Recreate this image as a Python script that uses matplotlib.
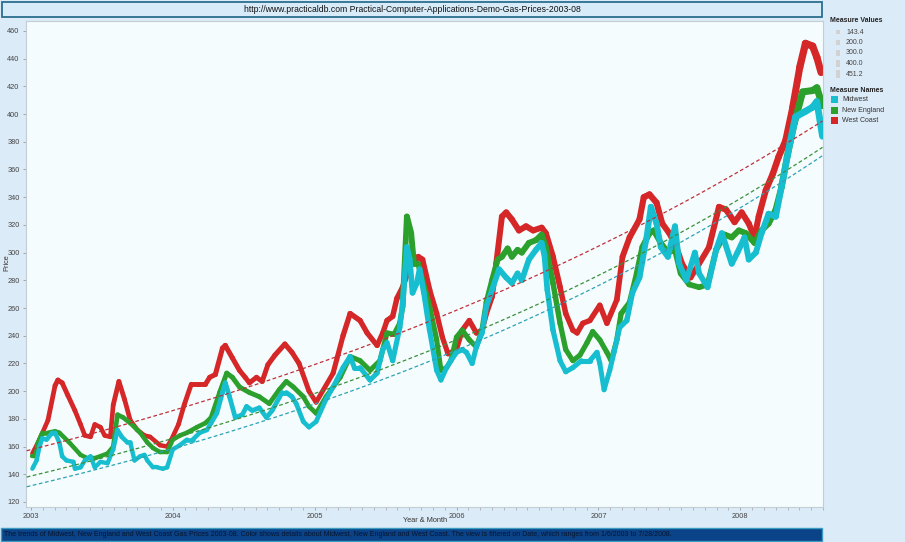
import numpy as np
import matplotlib
matplotlib.use("Agg")
import matplotlib.pyplot as plt
from matplotlib.collections import LineCollection
from matplotlib.patches import Rectangle

plt.rcParams['font.family'] = ['Liberation Sans Narrow', 'Liberation Sans', 'DejaVu Sans']

# weekly gas prices: decimal year and price (cents/gal)
wc_year = [2003.01, 2003.06, 2003.12, 2003.17, 2003.19, 2003.22, 2003.26, 2003.31, 2003.35, 2003.38,
           2003.42, 2003.45, 2003.49, 2003.52, 2003.56, 2003.58, 2003.62, 2003.66, 2003.70, 2003.75,
           2003.80, 2003.84, 2003.91, 2003.96, 2003.99, 2004.04, 2004.08, 2004.13, 2004.18, 2004.23,
           2004.26, 2004.30, 2004.35, 2004.37, 2004.42, 2004.47, 2004.51, 2004.54, 2004.59, 2004.63,
           2004.67, 2004.72, 2004.79, 2004.84, 2004.89, 2004.96, 2005.01, 2005.13, 2005.20, 2005.25,
           2005.32, 2005.37, 2005.44, 2005.48, 2005.51, 2005.55, 2005.58, 2005.62, 2005.67, 2005.73,
           2005.76, 2005.81, 2005.86, 2005.90, 2005.94, 2006.00, 2006.04, 2006.09, 2006.14, 2006.18,
           2006.21, 2006.25, 2006.28, 2006.32, 2006.35, 2006.39, 2006.44, 2006.49, 2006.54, 2006.60,
           2006.63, 2006.68, 2006.73, 2006.77, 2006.82, 2006.85, 2006.89, 2006.94, 2007.01, 2007.06,
           2007.13, 2007.17, 2007.22, 2007.29, 2007.32, 2007.36, 2007.41, 2007.45, 2007.50, 2007.55,
           2007.59, 2007.65, 2007.71, 2007.78, 2007.85, 2007.90, 2007.96, 2008.01, 2008.06, 2008.10,
           2008.13, 2008.18, 2008.23, 2008.27, 2008.32, 2008.37, 2008.42, 2008.46, 2008.51, 2008.54,
           2008.57]
wc_price = [155, 165, 179, 204, 208, 206, 197, 186, 176, 168,
            167, 176, 174, 168, 167, 190, 207, 194, 179, 172,
            168, 167, 161, 160, 165, 176, 190, 205, 205, 205,
            210, 212, 231, 233, 224, 215, 210, 206, 210, 207,
            219, 226, 234, 228, 220, 200, 192, 213, 240, 256,
            251, 242, 233, 242, 251, 254, 267, 275, 290, 297,
            295, 273, 256, 239, 227, 230, 244, 251, 242, 244,
            256, 268, 292, 326, 329, 324, 316, 319, 316, 318,
            314, 297, 275, 256, 244, 242, 249, 251, 262, 249,
            266, 297, 311, 324, 340, 342, 336, 321, 314, 304,
            292, 282, 292, 304, 333, 331, 322, 329, 321, 311,
            326, 345, 357, 369, 381, 405, 434, 451, 449, 441,
            430]

ne_year = [2003.01, 2003.03, 2003.05, 2003.08, 2003.12, 2003.17, 2003.20, 2003.27, 2003.35, 2003.39,
           2003.46, 2003.54, 2003.58, 2003.61, 2003.65, 2003.70, 2003.77, 2003.82, 2003.86, 2003.91,
           2003.96, 2004.00, 2004.05, 2004.10, 2004.17, 2004.23, 2004.27, 2004.33, 2004.38, 2004.42,
           2004.47, 2004.54, 2004.61, 2004.68, 2004.75, 2004.80, 2004.85, 2004.92, 2004.96, 2005.01,
           2005.08, 2005.18, 2005.25, 2005.32, 2005.39, 2005.46, 2005.51, 2005.56, 2005.60, 2005.62,
           2005.65, 2005.68, 2005.70, 2005.73, 2005.76, 2005.81, 2005.86, 2005.89, 2005.93, 2005.96,
           2006.00, 2006.04, 2006.09, 2006.14, 2006.18, 2006.21, 2006.25, 2006.29, 2006.32, 2006.36,
           2006.39, 2006.43, 2006.46, 2006.51, 2006.56, 2006.60, 2006.63, 2006.68, 2006.73, 2006.77,
           2006.82, 2006.87, 2006.92, 2006.96, 2007.01, 2007.06, 2007.09, 2007.13, 2007.16, 2007.22,
           2007.27, 2007.31, 2007.36, 2007.39, 2007.44, 2007.49, 2007.54, 2007.58, 2007.64, 2007.71,
           2007.77, 2007.83, 2007.89, 2007.94, 2007.99, 2008.04, 2008.10, 2008.15, 2008.20, 2008.25,
           2008.29, 2008.33, 2008.38, 2008.44, 2008.51, 2008.54, 2008.58]
ne_price = [153, 153, 163, 170, 170, 171, 170, 163, 154, 152,
            152, 155, 160, 183, 181, 177, 170, 163, 159, 156,
            156, 165, 168, 170, 174, 177, 181, 199, 213, 210,
            203, 199, 196, 191, 201, 207, 203, 196, 189, 184,
            196, 210, 225, 222, 215, 222, 242, 241, 249, 261,
            326, 314, 292, 292, 280, 261, 237, 215, 217, 222,
            239, 244, 237, 232, 244, 264, 280, 295, 297, 303,
            297, 302, 300, 307, 309, 313, 304, 278, 249, 230,
            222, 226, 235, 243, 237, 228, 222, 237, 256, 264,
            285, 304, 314, 316, 307, 300, 302, 285, 277, 275,
            277, 302, 313, 311, 316, 314, 307, 316, 321, 331,
            347, 369, 393, 416, 417, 419, 406]

mw_year = [2003.01, 2003.02, 2003.04, 2003.06, 2003.08, 2003.11, 2003.15, 2003.17, 2003.20, 2003.22,
           2003.25, 2003.30, 2003.31, 2003.35, 2003.38, 2003.42, 2003.45, 2003.49, 2003.54, 2003.58,
           2003.61, 2003.64, 2003.68, 2003.70, 2003.73, 2003.77, 2003.80, 2003.82, 2003.86, 2003.89,
           2003.93, 2003.96, 2004.00, 2004.05, 2004.10, 2004.14, 2004.19, 2004.24, 2004.27, 2004.31,
           2004.35, 2004.37, 2004.40, 2004.44, 2004.49, 2004.52, 2004.56, 2004.61, 2004.66, 2004.70,
           2004.77, 2004.80, 2004.84, 2004.87, 2004.92, 2004.96, 2005.01, 2005.08, 2005.13, 2005.20,
           2005.25, 2005.28, 2005.32, 2005.39, 2005.44, 2005.48, 2005.51, 2005.55, 2005.60, 2005.62,
           2005.65, 2005.67, 2005.69, 2005.72, 2005.74, 2005.77, 2005.81, 2005.86, 2005.89, 2005.93,
           2005.96, 2006.00, 2006.04, 2006.07, 2006.11, 2006.14, 2006.18, 2006.21, 2006.25, 2006.30,
           2006.35, 2006.39, 2006.43, 2006.46, 2006.51, 2006.56, 2006.60, 2006.62, 2006.64, 2006.68,
           2006.73, 2006.77, 2006.82, 2006.88, 2006.94, 2006.99, 2007.01, 2007.04, 2007.08, 2007.11,
           2007.15, 2007.20, 2007.24, 2007.29, 2007.34, 2007.37, 2007.41, 2007.44, 2007.49, 2007.54,
           2007.57, 2007.62, 2007.68, 2007.71, 2007.77, 2007.83, 2007.87, 2007.94, 2007.98, 2008.03,
           2008.06, 2008.11, 2008.15, 2008.20, 2008.25, 2008.30, 2008.35, 2008.39, 2008.46, 2008.51,
           2008.54, 2008.58]
mw_price = [144, 146, 150, 160, 166, 165, 170, 170, 163, 153,
            150, 149, 144, 145, 150, 153, 145, 149, 148, 158,
            172, 167, 163, 163, 150, 153, 154, 150, 145, 145,
            144, 145, 158, 161, 165, 165, 170, 172, 177, 184,
            199, 206, 196, 181, 183, 189, 186, 188, 181, 186,
            199, 199, 196, 191, 178, 174, 178, 194, 203, 217,
            225, 217, 217, 208, 213, 230, 235, 222, 246, 263,
            304, 295, 271, 278, 288, 271, 244, 215, 208, 217,
            222, 228, 230, 228, 220, 232, 242, 261, 273, 288,
            282, 278, 285, 280, 295, 302, 307, 298, 273, 244,
            222, 214, 217, 222, 222, 228, 220, 201, 215, 228,
            246, 251, 271, 282, 311, 333, 321, 304, 297, 319,
            292, 280, 300, 285, 275, 302, 314, 292, 300, 311,
            295, 300, 314, 328, 326, 352, 379, 398, 402, 405,
            409, 384]

# exponential trend lines: value at first and last date
mw_trend = [131, 370]
ne_trend = [138, 376]
wc_trend = [157, 395]

series_names = ['Midwest', 'New England', 'West Coast']
series_colors = ['#17becf', '#2ca02c', '#d62728']
trend_colors = ['#2ea2b4', '#3b8f3b', '#c0303a']
size_labels = ['143.4', '200.0', '300.0', '400.0', '451.2']

fig = plt.figure(figsize=(9.05, 5.42), dpi=100)
fig.patch.set_facecolor('#dcebf8')

ax = fig.add_axes([0.0287, 0.0646, 0.8807, 0.8967])
ax.set_facecolor('#f4fcfd')

vmin, vmax = 143.4, 451.2


def width_for(v):
    # line width grows with the price (size encoding)
    return 3.1 + (np.asarray(v) - vmin) / (vmax - vmin) * 2.2


data = [(mw_year, mw_price), (ne_year, ne_price), (wc_year, wc_price)]
trends = [mw_trend, ne_trend, wc_trend]
zorders = [4, 3, 2]
for (yrs, pr), col, z in zip(data, series_colors, zorders):
    x = np.array(yrs)
    y = np.array(pr, dtype=float)
    pts = np.column_stack([x, y]).reshape(-1, 1, 2)
    segs = np.concatenate([pts[:-1], pts[1:]], axis=1)
    lw = width_for((y[:-1] + y[1:]) / 2)
    lc = LineCollection(segs, colors=col, linewidths=lw, capstyle='round',
                        joinstyle='round', zorder=z)
    ax.add_collection(lc)

for (yrs, pr), tr, col in zip(data, trends, trend_colors):
    x0, x1 = 2002.97, 2008.58
    xs = np.linspace(x0, x1, 200)
    rate = np.log(tr[1] / tr[0]) / (x1 - x0)
    ax.plot(xs, tr[0] * np.exp(rate * (xs - x0)), color=col, lw=0.9,
            dashes=(3, 2), zorder=6)

ax.set_xlim(2002.965, 2008.577)
ax.set_ylim(116.4, 467.2)
ax.set_yticks(range(120, 461, 20))
ax.set_xticks(range(2003, 2009))
ax.set_xticklabels([str(y) for y in range(2003, 2009)])
ax.set_xticks([2003 + m / 12 for m in range(0, 68)], minor=True)
ax.tick_params(axis='both', labelsize=5.3, colors='#9a9a9a', labelcolor='#444444',
               length=2.5, width=0.6)
ax.tick_params(axis='x', which='minor', length=2, width=0.5, colors='#a0a0a0')
ax.tick_params(axis='x', pad=1.5)
ax.tick_params(axis='y', pad=2)
for s in ax.spines.values():
    s.set_color('#c4ccd4')
    s.set_linewidth(0.8)

fig.text(7 / 905, 1 - 263 / 542, 'Price', fontsize=5.3, color='#333333',
         rotation=90, ha='center', va='center')
fig.text(425 / 905, 1 - 521 / 542, 'Year & Month', fontsize=5.3, color='#333333',
         ha='center', va='center')

# title box
fig.patches.append(Rectangle((2 / 905, 1 - 17 / 542), 820 / 905, 15 / 542,
                             transform=fig.transFigure, facecolor='#d8ebf9',
                             edgecolor='#2b6e8e', lw=1.3))
fig.text(412 / 905, 1 - 9.5 / 542,
         'http://www.practicaldb.com Practical-Computer-Applications-Demo-Gas-Prices-2003-08',
         ha='center', va='center', fontsize=6.2, color='#111111')

# caption bar
fig.patches.append(Rectangle((1 / 905, 1 / 542), 821 / 905, 13 / 542,
                             transform=fig.transFigure, facecolor='#0b4388',
                             edgecolor='#3a9cc0', lw=1.0))
fig.text(4 / 905, 8 / 542,
         'The trends of Midwest, New England and West Coast Gas Prices 2003-08. '
         'Color shows details about Midwest, New England and West Coast. '
         'The view is filtered on Date, which ranges from 1/6/2003 to 7/28/2008.',
         ha='left', va='center', fontsize=5, color='#07152e')

# legends
fig.text(830 / 905, 1 - 21 / 542, 'Measure Values', fontsize=5, fontweight='bold',
         color='#222222', va='center')
for i, lab in enumerate(size_labels):
    yc = 1 - (32 + i * 10.5) / 542
    h = (4 + i * 1.2) / 542
    fig.patches.append(Rectangle((836 / 905, yc - h / 2), 3.5 / 905, h,
                                 transform=fig.transFigure, facecolor='#d2d2d2',
                                 edgecolor='none'))
    fig.text(846 / 905, yc, lab, fontsize=5, color='#444444', va='center')

fig.text(830 / 905, 1 - 90 / 542, 'Measure Names', fontsize=5, fontweight='bold',
         color='#222222', va='center')
for i, (name, col) in enumerate(zip(series_names, series_colors)):
    yc = 1 - (100 + i * 10.5) / 542
    fig.patches.append(Rectangle((831 / 905, yc - 3.5 / 542), 7 / 905, 7 / 542,
                                 transform=fig.transFigure, facecolor=col,
                                 edgecolor='none'))
    fig.text(842 / 905, yc, name, fontsize=5, color='#333333', va='center')

fig.savefig('out.png', dpi=100, facecolor=fig.get_facecolor())
